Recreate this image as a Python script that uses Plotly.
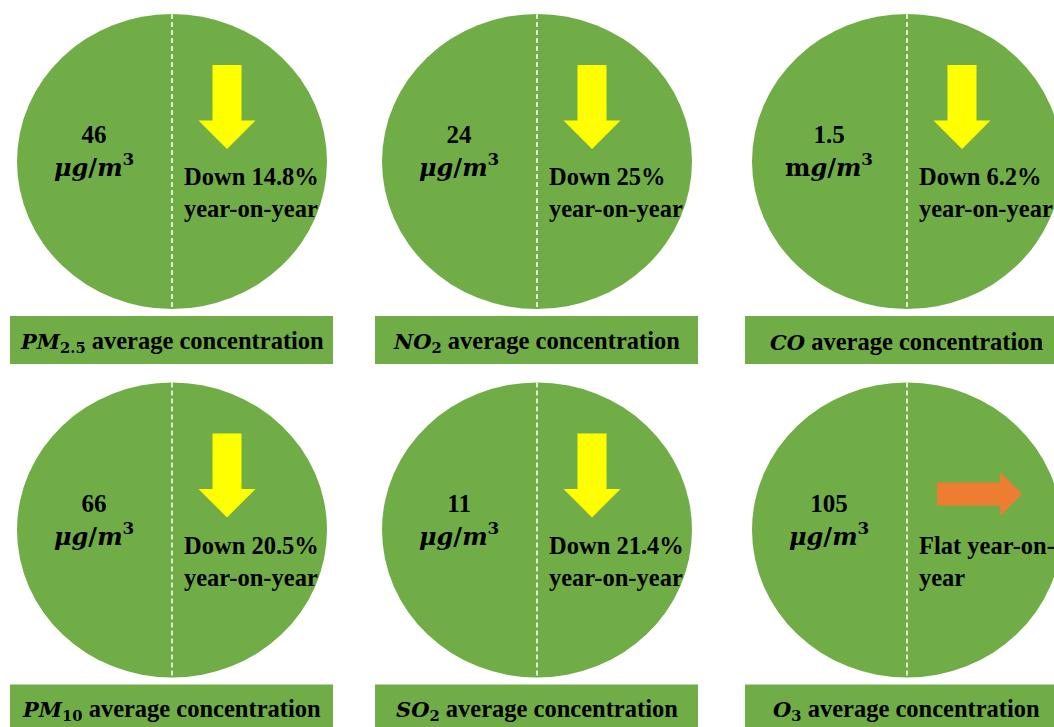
import plotly.graph_objects as go

# Annual average concentrations and year-on-year changes
pollutants = ["<i>PM</i><sub>2.5</sub>", "<i>NO</i><sub>2</sub>", "<i>CO</i>",
              "<i>PM</i><sub>10</sub>", "<i>SO</i><sub>2</sub>", "<i>O</i><sub>3</sub>"]
values = ["46", "24", "1.5", "66", "11", "105"]
units = ["<i>μg</i>/<i>m</i><sup>3</sup>", "<i>μg</i>/<i>m</i><sup>3</sup>",
         "m<i>g</i>/<i>m</i><sup>3</sup>", "<i>μg</i>/<i>m</i><sup>3</sup>",
         "<i>μg</i>/<i>m</i><sup>3</sup>", "<i>μg</i>/<i>m</i><sup>3</sup>"]
changes = [-14.8, -25, -6.2, -20.5, -21.4, 0]

W, H = 1054, 727
GREEN = "#70AD47"
YELLOW = "#FFFF00"
ORANGE = "#ED7D31"
FONT = "Liberation Serif"
MATH = "DejaVu Serif"

col_x = [172, 537, 907]          # circle centres (x)
row_y = [161.5, 530]             # circle centres (y)
box_x0 = [10, 375, 745]
RX, RY = 155, 147.5


def math(s, size=21):
    return f"<span style=\"font-family:'{MATH}';font-size:{size}px\">{s}</span>"


fig = go.Figure()
shapes = []
annotations = []

for i, (name, val, unit, chg) in enumerate(zip(pollutants, values, units, changes)):
    cx = col_x[i % 3]
    cy = row_y[i // 3]

    # disc
    shapes.append(dict(type="circle", xref="x", yref="y",
                       x0=cx - RX, x1=cx + RX, y0=cy - RY, y1=cy + RY,
                       fillcolor=GREEN, line=dict(width=0), layer="below"))
    # dashed divider
    shapes.append(dict(type="line", xref="x", yref="y",
                       x0=cx, x1=cx, y0=cy - RY, y1=cy + RY,
                       line=dict(color="white", width=1.5, dash="5px,3px")))

    # trend arrow
    if chg < 0:
        ax = cx + 55
        top, base, tip = cy - 96.5, cy - 41, cy - 12.5
        sh, hh = 14.5, 28.5
        path = (f"M {ax - sh},{top} L {ax + sh},{top} L {ax + sh},{base} "
                f"L {ax + hh},{base} L {ax},{tip} L {ax - hh},{base} "
                f"L {ax - sh},{base} Z")
        color = YELLOW
        txt = f"Down {abs(chg):g}%<br>year-on-year"
    else:
        ay = cy - 36
        left, base, tip = cx + 30, cx + 93, cx + 115
        sh, hh = 11.5, 22
        path = (f"M {left},{ay - sh} L {base},{ay - sh} L {base},{ay - hh} "
                f"L {tip},{ay} L {base},{ay + hh} L {base},{ay + sh} "
                f"L {left},{ay + sh} Z")
        color = ORANGE
        txt = "Flat year-on-<br>year"
    shapes.append(dict(type="path", xref="x", yref="y", path=path,
                       fillcolor=color, line=dict(width=0)))

    annotations.append(dict(x=cx + 10, y=cy + 31, xref="x", yref="y",
                            text=f"<b>{txt}</b>", showarrow=False,
                            xanchor="left", yanchor="middle", align="left",
                            font=dict(family=FONT, size=24.5, color="black")))

    # concentration value
    annotations.append(dict(x=cx - 78, y=cy - 10, xref="x", yref="y",
                            text=f"<b>{val}<br>{math(unit, 24)}</b>", showarrow=False,
                            xanchor="center", yanchor="middle", align="center",
                            font=dict(family=FONT, size=25, color="black")))

    # caption box
    bx0 = box_x0[i % 3]
    by0 = cy + 154.5
    shapes.append(dict(type="rect", xref="x", yref="y",
                       x0=bx0, x1=bx0 + 323, y0=by0, y1=by0 + 48,
                       fillcolor=GREEN, line=dict(width=0), layer="below"))
    annotations.append(dict(x=bx0 + 161.5, y=by0 + 25, xref="x", yref="y",
                            text=f"<b>{math(name, 21)} average concentration</b>",
                            showarrow=False, xanchor="center", yanchor="middle",
                            font=dict(family=FONT, size=24.5, color="black")))

fig.update_layout(
    width=W, height=H,
    margin=dict(l=0, r=0, t=0, b=0),
    paper_bgcolor="white", plot_bgcolor="white",
    xaxis=dict(range=[0, W], visible=False, fixedrange=True),
    yaxis=dict(range=[H, 0], visible=False, fixedrange=True),
    shapes=shapes, annotations=annotations,
    showlegend=False,
)

fig.write_html("out.html")
